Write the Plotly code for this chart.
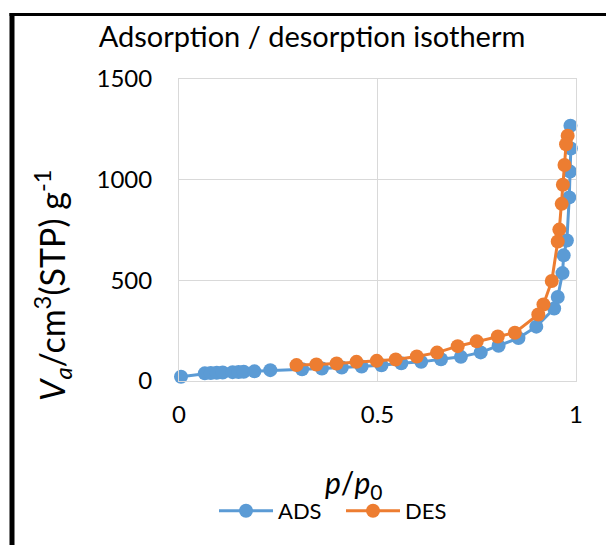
import plotly.graph_objects as go

# Adsorption branch
ads_p = [0.005, 0.065, 0.08, 0.095, 0.11, 0.135, 0.15, 0.163, 0.19, 0.23,
         0.31, 0.36, 0.41, 0.46, 0.51, 0.56, 0.61, 0.66, 0.71, 0.76, 0.805,
         0.855, 0.90, 0.945, 0.954, 0.966, 0.969, 0.977, 0.983, 0.985, 0.987, 0.986]
ads_v = [21, 38, 40, 41, 42, 44, 45, 46, 48, 54,
         58, 62, 67, 72, 78, 88, 95, 108, 120, 142, 175,
         213, 270, 360, 417, 536, 624, 698, 912, 1040, 1155, 1268]

# Desorption branch
des_p = [0.979, 0.975, 0.971, 0.967, 0.964, 0.958, 0.954, 0.939, 0.918, 0.905,
         0.846, 0.803, 0.75, 0.702, 0.65, 0.599, 0.546, 0.498, 0.447, 0.397,
         0.346, 0.296]
des_v = [1218, 1176, 1073, 975, 880, 752, 693, 497, 380, 330,
         240, 221, 197, 173, 141, 122, 107, 100, 95, 87,
         82, 79]

x_ticks = [0, 0.5, 1]
x_tick_text = ["0", "0.5", "1"]
y_ticks = [0, 500, 1000, 1500]
y_tick_text = ["0", "500", "1000", "1500"]

BLUE = "#5B9BD5"
ORANGE = "#ED7D31"
FONT = "Lato"

# page body has an 8px margin: lay the figure out in page coords minus 8
OFF = 8
W, H = 614 - OFF, 545 - OFF
L = 179 - OFF
T = 79 - OFF
R = W - (576 - OFF)
B = H - (381 - OFF)
pw = W - L - R
ph = H - T - B


def px(x):
    return (x - OFF - L) / pw


def py(y):
    return (H - B - (y - OFF)) / ph


fig = go.Figure()
fig.add_trace(go.Scatter(x=ads_p, y=ads_v, name="ADS", mode="lines+markers",
                         line=dict(color=BLUE, width=3),
                         marker=dict(color=BLUE, size=14),
                         cliponaxis=False))
fig.add_trace(go.Scatter(x=des_p, y=des_v, name="DES", mode="lines+markers",
                         line=dict(color=ORANGE, width=3),
                         marker=dict(color=ORANGE, size=14),
                         cliponaxis=False))

fig.update_layout(
    width=W, height=H,
    margin=dict(l=L, r=R, t=T, b=B, pad=0),
    paper_bgcolor="white", plot_bgcolor="white",
    font=dict(family=FONT, size=24, color="#000000"),
    title=dict(text="Adsorption / desorption isotherm",
               x=px(312), xanchor="center", xref="paper",
               y=1 - (37 - OFF) / H, yanchor="middle", yref="container",
               font=dict(family=FONT, size=29, color="#000000")),
    showlegend=True,
    legend=dict(orientation="h", x=px(214), xanchor="left",
                y=py(511), yanchor="middle",
                font=dict(family=FONT, size=22, color="#000000"),
                bgcolor="rgba(0,0,0,0)", itemwidth=54,
                entrywidth=58, entrywidthmode="pixels", tracegroupgap=0),
    xaxis=dict(range=[0, 1], tickvals=x_ticks, ticktext=x_tick_text,
               showgrid=True, gridcolor="#D9D9D9", gridwidth=1,
               zeroline=False, showline=True, linecolor="#D9D9D9", linewidth=1,
               mirror=True, ticks="", ticklabelstandoff=12,
               tickfont=dict(family=FONT, size=24, color="#000000")),
    yaxis=dict(range=[0, 1500], tickvals=y_ticks, ticktext=y_tick_text,
               showgrid=True, gridcolor="#D9D9D9", gridwidth=1,
               zeroline=False, showline=True, linecolor="#D9D9D9", linewidth=1,
               mirror=True, ticks="", ticklabelstandoff=21,
               tickfont=dict(family=FONT, size=24, color="#000000")),
    annotations=[
        dict(text="<i>V</i><sub><i>a</i></sub>/cm<sup>3</sup>(STP) g<sup>-1</sup>",
             xref="paper", yref="paper", x=px(52), y=py(285),
             xanchor="center", yanchor="middle", textangle=-90, showarrow=False,
             font=dict(family=FONT, size=34, color="#000000")),
        dict(text="<i>p</i>/<i>p</i><sub>0</sub>",
             xref="paper", yref="paper", x=px(353), y=py(484),
             xanchor="center", yanchor="middle", showarrow=False,
             font=dict(family=FONT, size=30, color="#000000")),
    ],
    shapes=[
        dict(type="line", xref="paper", yref="paper",
             x0=px(12), x1=px(12), y0=py(13), y1=py(560),
             line=dict(color="black", width=5)),
        dict(type="line", xref="paper", yref="paper",
             x0=px(9.5), x1=px(620), y0=py(14.5), y1=py(14.5),
             line=dict(color="black", width=3)),
        dict(type="line", xref="paper", yref="paper",
             x0=px(612.5), x1=px(612.5), y0=py(16), y1=py(560),
             line=dict(color="#BFBFBF", width=1)),
    ],
)

fig.write_html("out.html")
